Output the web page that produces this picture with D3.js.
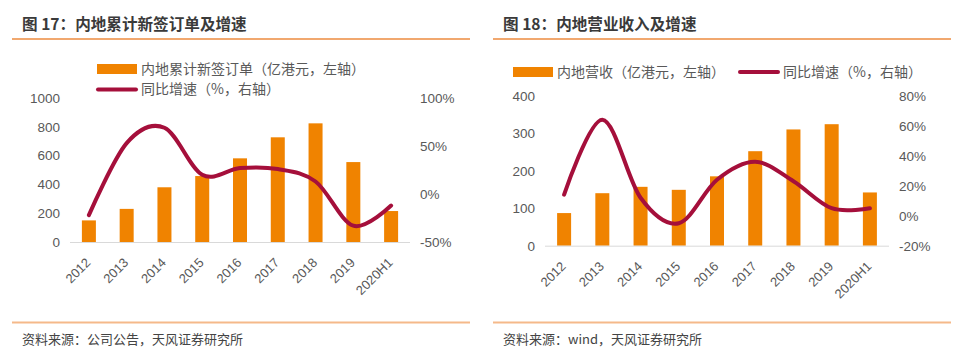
<!DOCTYPE html>
<html>
<head>
<meta charset="utf-8">
<script src="https://cdn.jsdelivr.net/npm/d3@7"></script>
<style>
  body { margin: 0; background: #fff; }
  svg { display: block; font-family: "Noto Sans CJK SC", "Microsoft YaHei", sans-serif; }
</style>
</head>
<body>
<script>
// ----- DATA -----
var years = ["2012", "2013", "2014", "2015", "2016", "2017", "2018", "2019", "2020H1"];

// fig 17
var ordersValue = [150, 230, 380, 458, 581, 727, 824, 555, 215];
var ordersGrowth = [-22, 53, 69, 20, 27, 26, 13, -33, -12];
var ordersLeftTicks = [0, 200, 400, 600, 800, 1000];
var ordersRightTicks = [-50, 0, 50, 100];

// fig 18
var revenueValue = [87, 140, 157, 149, 185, 252, 310, 324, 142];
var revenueGrowth = [14, 64, 12, -5, 24, 36, 23, 5, 5];
var revenueLeftTicks = [0, 100, 200, 300, 400];
var revenueRightTicks = [-20, 0, 20, 40, 60, 80];

var W = 967, H = 362;
var barColor = "#F08300";
var lineColor = "#A50F3B";
var textColor = "#595959";
var numFont = "Liberation Sans, Arial, sans-serif";

var svg = d3.select("body").append("svg")
  .attr("width", W)
  .attr("height", H);

function drawPanel(opt) {
  var g = svg.append("g");

  // title + rules
  g.append("text")
    .attr("x", opt.x0 + 10)
    .attr("y", 30)
    .attr("font-size", 15.6)
    .attr("font-weight", "bold")
    .attr("fill", "#3a3a3a")
    .text(opt.title);

  g.append("line")
    .attr("x1", opt.x0).attr("x2", opt.x1)
    .attr("y1", 39).attr("y2", 39)
    .attr("stroke", "#ED8B3F").attr("stroke-width", 1.5);

  g.append("line")
    .attr("x1", opt.x0).attr("x2", opt.x1)
    .attr("y1", 322.5).attr("y2", 322.5)
    .attr("stroke", "#F5B98A").attr("stroke-width", 2);

  g.append("text")
    .attr("x", opt.x0 + 10)
    .attr("y", 344)
    .attr("font-size", 13)
    .attr("fill", "#444")
    .text(opt.source);

  // scales
  var x = d3.scaleBand()
    .domain(years)
    .range([opt.px0, opt.px1]);

  var yL = d3.scaleLinear()
    .domain(d3.extent(opt.leftTicks))
    .range([opt.py0, opt.py1]);

  var yR = d3.scaleLinear()
    .domain(d3.extent(opt.rightTicks))
    .range([opt.py0, opt.py1]);

  // left axis
  var axL = g.append("g")
    .attr("transform", "translate(" + (opt.px0 - 10) + ",0)")
    .call(d3.axisLeft(yL).tickValues(opt.leftTicks).tickSize(0).tickPadding(0)
      .tickFormat(d3.format("d")));
  axL.select(".domain").remove();
  axL.selectAll("text")
    .attr("font-size", 13.5)
    .attr("fill", textColor)
    .attr("font-family", numFont);

  // right axis
  var axR = g.append("g")
    .attr("transform", "translate(" + (opt.px1 + 10) + ",0)")
    .call(d3.axisRight(yR).tickValues(opt.rightTicks).tickSize(0).tickPadding(0)
      .tickFormat(function(d) { return d + "%"; }));
  axR.select(".domain").remove();
  axR.selectAll("text")
    .attr("font-size", 13.5)
    .attr("fill", textColor)
    .attr("font-family", numFont);

  // bars
  var bw = 14;
  g.append("g").selectAll("rect")
    .data(opt.values)
    .enter().append("rect")
    .attr("x", function(d, i) { return x(years[i]) + x.bandwidth() / 2 - bw / 2; })
    .attr("y", function(d) { return yL(d); })
    .attr("width", bw)
    .attr("height", function(d) { return yL(0) - yL(d); })
    .attr("fill", barColor);

  // baseline
  g.append("line")
    .attr("x1", opt.px0).attr("x2", opt.px1)
    .attr("y1", yL(0) + 0.5).attr("y2", yL(0) + 0.5)
    .attr("stroke", "#d9d9d9").attr("stroke-width", 1);

  // x labels
  g.append("g").selectAll("text")
    .data(years)
    .enter().append("text")
    .attr("transform", function(d) {
      return "translate(" + (x(d) + x.bandwidth() / 2 - 4) + "," + (yL(0) + 15) + ") rotate(-45)";
    })
    .attr("text-anchor", "end")
    .attr("dy", "0.7em")
    .attr("font-size", 13)
    .attr("fill", textColor)
    .attr("font-family", numFont)
    .text(function(d) { return d; });

  // growth line
  var line = d3.line()
    .x(function(d, i) { return x(years[i]) + x.bandwidth() / 2; })
    .y(function(d) { return yR(d); })
    .curve(d3.curveCatmullRom.alpha(0));

  g.append("path")
    .datum(opt.growth)
    .attr("d", line)
    .attr("fill", "none")
    .attr("stroke", lineColor)
    .attr("stroke-width", 4)
    .attr("stroke-linecap", "round")
    .attr("stroke-linejoin", "round");

  // legend
  opt.legend.forEach(function(l) {
    if (l.type === "bar") {
      g.append("rect")
        .attr("x", l.x).attr("y", l.y - 5)
        .attr("width", 40).attr("height", 10)
        .attr("fill", barColor);
    } else {
      g.append("line")
        .attr("x1", l.x + 1).attr("x2", l.x + 39)
        .attr("y1", l.y).attr("y2", l.y)
        .attr("stroke", lineColor)
        .attr("stroke-width", 4)
        .attr("stroke-linecap", "round");
    }
    g.append("text")
      .attr("x", l.x + 44)
      .attr("y", l.y)
      .attr("dy", "0.35em")
      .attr("font-size", l.size)
      .attr("fill", textColor)
      .text(l.label);
  });
}

drawPanel({
  x0: 12, x1: 470,
  title: "图 17：内地累计新签订单及增速",
  source: "资料来源：公司公告，天风证券研究所",
  px0: 70, px1: 410,
  py0: 242, py1: 98,
  values: ordersValue,
  growth: ordersGrowth,
  leftTicks: ordersLeftTicks,
  rightTicks: ordersRightTicks,
  legend: [
    { type: "bar", x: 97, y: 69, size: 14, label: "内地累计新签订单（亿港元，左轴）" },
    { type: "line", x: 97, y: 89.5, size: 14, label: "同比增速（%，右轴）" }
  ]
});

drawPanel({
  x0: 493, x1: 951,
  title: "图 18：内地营业收入及增速",
  source: "资料来源：wind，天风证券研究所",
  px0: 545, px1: 889,
  py0: 245.7, py1: 95.7,
  values: revenueValue,
  growth: revenueGrowth,
  leftTicks: revenueLeftTicks,
  rightTicks: revenueRightTicks,
  legend: [
    { type: "bar", x: 513, y: 72, size: 14, label: "内地营收（亿港元，左轴）" },
    { type: "line", x: 739, y: 72, size: 14, label: "同比增速（%，右轴）" }
  ]
});
</script>
</body>
</html>
